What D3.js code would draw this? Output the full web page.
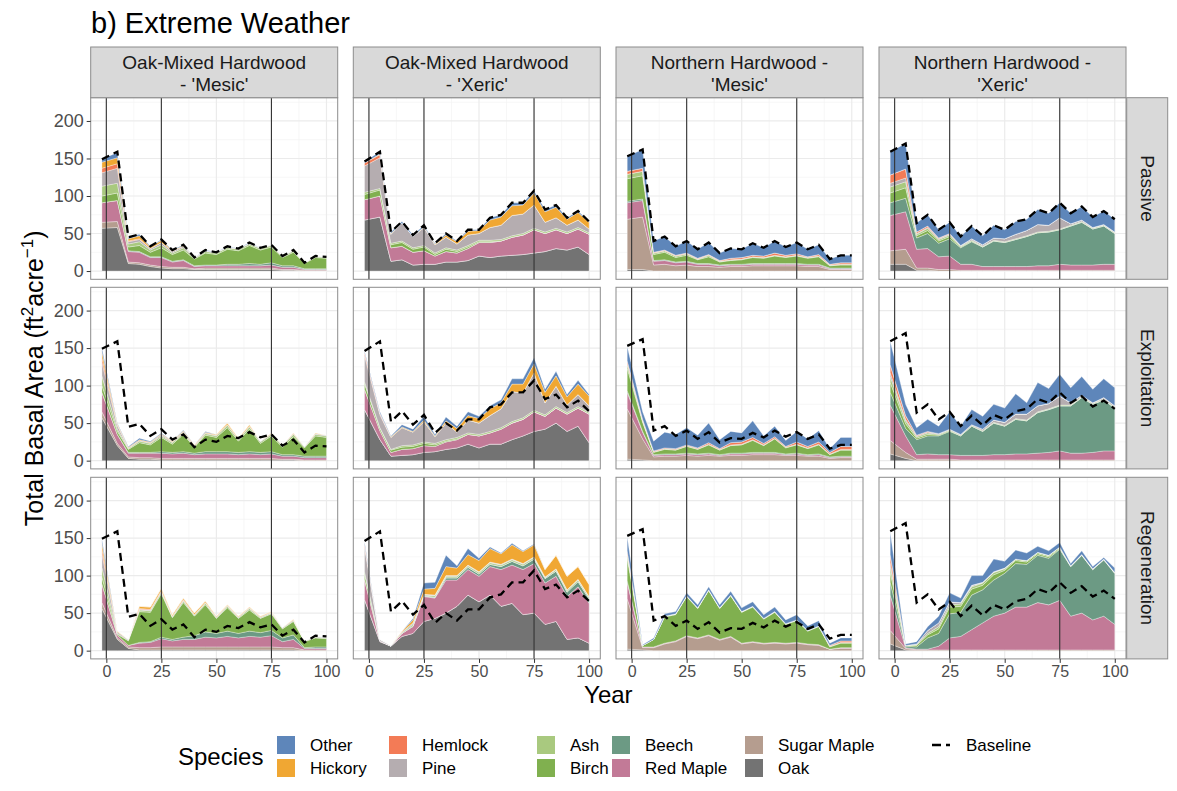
<!DOCTYPE html>
<html><head><meta charset="utf-8">
<script src="https://cdn.jsdelivr.net/npm/d3@7"></script>
<style>body{margin:0;background:#fff} text{font-family:"Liberation Sans",Arial,Helvetica,sans-serif}</style>
</head><body><svg id="c" width="1177" height="791"></svg>
<script>
// ---------------- data ----------------
const years = [-2,5,10,15,20,25,30,35,40,45,50,55,60,65,70,75,80,85,90,95,100];
// stacking order bottom -> top
const species = ["Oak","Sugar Maple","Red Maple","Beech","Birch","Ash","Pine","Hemlock","Hickory","Other"];
const speciesColors = ["#737373","#B59D8F","#C27A97","#6C9A84","#80B04F","#A9C97F","#B5ADB0","#F37B56","#F0A733","#5E86BA"];
const forestTypes = [["Oak-Mixed Hardwood","- 'Mesic'"],["Oak-Mixed Hardwood","- 'Xeric'"],["Northern Hardwood -","'Mesic'"],["Northern Hardwood -","'Xeric'"]];
const treatments = ["Passive","Exploitation","Regeneration"];
const xTicks = [0,25,50,75,100];
const yTicks = [0,50,100,150,200];
const markerYears = [0,25,75];

const baselineOMHMesic = [149,159,45,49,33,42,28,35,18,28,25,33,30,38,31,35,20,28,11,20,19];
const baselineOMHXeric = [146,159,52,66,48,61,37,50,40,55,55,71,75,91,91,107,82,88,71,80,66];
const baselineNHMesic  = [153,162,40,46,33,40,29,38,24,30,29,37,31,40,32,38,29,35,16,21,21];
const baselineNHXeric  = [159,170,64,75,55,65,46,60,47,61,55,66,69,82,77,91,77,86,72,80,69];

// each row: one year; columns follow `species`
const passiveOMHMesic = [
[57,8,26,0,9,13,18,6,8,4],[58,8,28,0,10,13,20,6,8,7],[10,2,14,1,5,4,3,1,3,2],[9,2,14,1,8,5,3,1,4,2],
[6,2,10,1,6,3,2,0,2,1],[4,2,12,1,12,4,3,0,3,1],[3,2,7,1,9,2,2,0,1,1],[3,2,9,1,13,3,2,0,1,1],
[2,1,3,1,9,1,1,0,0,0],[2,2,3,1,16,2,1,0,0,1],[2,2,3,1,14,2,1,0,0,0],[2,2,3,2,20,2,1,0,0,1],
[2,2,3,2,18,2,1,0,0,0],[2,2,3,3,24,2,1,0,0,1],[2,2,3,2,19,2,1,0,0,0],[2,2,4,3,21,2,1,0,0,0],
[1,1,3,2,11,1,1,0,0,0],[1,1,3,2,18,2,1,0,0,0],[0,1,1,1,7,1,0,0,0,0],[0,1,1,1,15,1,1,0,0,0],[0,1,1,1,14,1,1,0,0,0]];
const passiveOMHXeric = [
[68,0,27,0,7,3,35,4,0,2],[72,0,28,0,8,2,41,4,1,3],[13,0,18,0,4,2,12,0,1,2],[15,0,18,0,5,2,24,0,0,2],
[8,0,17,0,4,2,15,0,0,2],[9,0,18,0,5,2,24,0,1,2],[9,0,11,0,2,2,11,0,1,1],[12,0,14,0,3,2,14,0,3,2],
[12,0,12,0,2,2,8,0,3,1],[14,0,16,0,2,2,14,0,5,2],[20,0,18,0,1,2,9,0,4,1],[18,0,20,0,1,2,17,0,10,3],
[20,0,20,0,0,2,19,0,11,3],[21,0,24,0,0,2,27,0,13,4],[22,0,26,0,0,2,26,0,12,3],[24,0,31,0,0,2,31,0,16,3],
[26,0,24,0,0,2,13,0,14,3],[30,0,25,0,0,2,14,0,14,3],[28,0,22,0,0,2,9,0,8,2],[32,0,24,0,0,2,10,0,10,2],[22,0,27,0,0,2,5,0,9,1]];
const passiveNHMesic = [
[2,67,22,2,30,6,0,4,0,20],[2,70,22,2,31,6,0,4,0,25],[0,8,5,1,8,2,0,1,0,15],[0,9,5,1,10,2,0,1,0,18],
[0,7,4,1,6,2,0,1,0,12],[0,8,4,1,8,2,0,1,0,16],[0,6,3,1,5,1,0,1,0,12],[0,6,3,1,9,2,0,1,0,16],
[0,5,2,1,4,1,0,1,0,10],[0,6,2,1,5,1,0,2,0,13],[0,6,2,1,6,1,0,2,0,11],[0,7,2,1,8,1,0,2,0,16],
[0,7,2,1,7,1,0,2,0,11],[0,7,2,1,10,1,0,3,0,16],[0,7,2,1,8,1,0,2,0,11],[0,7,2,1,10,1,0,2,0,15],
[0,6,2,1,8,1,0,1,0,10],[0,6,2,1,10,1,0,2,0,13],[0,2,1,1,3,1,0,1,0,7],[0,2,1,1,4,1,0,2,0,10],[0,2,1,1,4,1,0,2,0,10]];
const passiveNHXeric = [
[9,18,47,17,13,8,5,11,0,31],[9,20,50,18,14,8,5,12,0,34],[1,3,25,15,3,2,1,2,0,12],[1,3,26,20,4,3,1,2,0,15],
[0,2,17,18,3,2,1,1,0,11],[0,2,18,23,3,2,1,1,0,15],[0,1,8,22,1,1,1,0,0,12],[0,1,8,30,1,1,2,0,0,17],
[0,1,5,26,0,1,2,0,0,12],[0,1,5,34,0,1,3,0,0,17],[0,1,5,32,0,1,4,0,0,12],[0,1,5,36,0,1,6,0,0,17],
[0,1,5,40,0,1,7,0,0,15],[0,1,6,44,0,1,10,0,0,20],[0,1,6,45,0,1,8,0,0,16],[0,1,8,46,0,1,15,0,0,20],
[0,1,7,52,0,1,2,0,0,14],[0,1,7,57,0,1,2,0,0,18],[0,1,7,48,0,1,1,0,0,14],[0,1,8,51,0,1,1,0,0,18],[0,1,8,41,0,1,1,0,0,17]];

const exploitOMHMesic = [
[57,8,26,0,9,13,18,6,8,5],[20,3,12,0,4,3,5,1,1,1],[3,2,5,1,4,1,1,0,1,1],[2,2,6,1,13,2,1,0,1,2],
[2,2,6,1,10,2,1,0,1,1],[1,2,7,2,19,2,2,0,1,1],[1,2,6,2,11,2,1,0,1,0],[1,2,7,2,23,2,2,0,1,1],
[1,2,5,2,8,1,1,0,1,0],[1,2,6,3,22,2,1,0,1,1],[1,2,6,3,19,2,1,0,1,0],[1,2,6,3,32,3,1,0,2,0],
[1,2,5,3,15,2,1,0,1,0],[1,2,6,3,30,3,1,0,2,0],[1,2,5,3,12,2,1,0,0,0],[1,2,6,3,21,2,1,0,1,0],
[1,1,4,2,10,2,1,0,0,0],[1,1,4,2,24,3,1,0,1,0],[0,1,3,2,11,1,1,0,0,0],[0,1,3,2,27,2,1,0,1,0],[0,1,3,2,25,2,1,0,0,0]];
const exploitOMHXeric = [
[68,0,27,0,7,3,35,4,0,2],[28,0,12,0,3,1,17,2,0,2],[6,0,5,0,3,1,16,0,1,1],[7,0,8,0,3,2,24,0,1,3],
[8,0,8,0,3,2,17,0,1,3],[11,0,9,0,3,2,27,0,2,5],[12,0,7,0,2,2,9,0,1,2],[15,0,10,0,1,2,22,0,3,5],
[17,0,11,0,1,2,7,0,5,3],[22,0,13,0,0,2,17,0,6,5],[17,0,16,0,0,2,15,0,6,3],[22,0,15,0,0,2,21,0,9,4],
[22,0,20,0,0,2,25,0,8,4],[28,0,22,0,0,2,40,0,10,7],[33,0,22,0,0,2,33,0,12,7],[39,0,26,0,0,2,50,0,12,8],
[42,0,17,0,0,2,16,0,14,4],[50,0,20,0,0,2,27,0,14,6],[39,0,23,0,0,2,10,0,11,3],[46,0,24,0,0,2,16,0,14,5],[24,0,38,0,0,2,9,0,13,2]];
const exploitNHMesic = [
[2,67,22,2,30,6,0,4,0,19],[1,28,9,1,12,2,0,2,0,10],[0,5,2,1,3,1,0,1,0,13],[0,6,2,1,6,1,0,1,0,21],
[0,6,2,1,5,1,0,1,0,19],[0,7,2,1,9,1,0,1,0,23],[0,6,2,1,6,1,0,1,0,17],[0,7,2,1,11,1,0,2,0,26],
[0,6,1,1,6,1,0,1,0,12],[0,7,2,1,10,1,0,3,0,15],[0,7,2,1,11,1,0,3,0,12],[0,8,2,1,16,1,0,3,0,22],
[0,8,2,1,9,1,0,2,0,10],[0,8,2,1,18,1,0,2,0,14],[0,7,1,1,8,1,0,1,0,8],[0,7,2,1,11,1,0,3,0,14],
[0,6,1,1,8,1,0,2,0,10],[0,6,2,1,12,1,0,3,0,15],[0,3,1,1,3,1,0,2,0,5],[0,4,1,1,8,1,0,4,0,12],[0,4,1,1,8,1,0,4,0,12]];
const exploitNHXeric = [
[9,18,47,17,13,8,5,11,0,31],[3,8,22,10,6,4,2,5,0,15],[0,2,6,20,2,2,1,1,0,10],[0,2,7,24,2,2,1,1,0,16],
[0,2,6,25,1,1,1,0,0,10],[0,2,6,31,1,1,1,0,0,23],[0,1,6,26,0,1,1,0,0,11],[0,1,6,39,0,1,1,0,0,20],
[0,1,6,32,0,1,2,0,0,17],[0,1,7,42,0,1,3,0,0,21],[0,1,7,38,0,1,4,0,0,19],[0,1,8,46,0,1,6,0,0,27],
[0,1,8,44,0,1,8,0,0,15],[0,1,9,54,0,1,8,0,0,31],[0,1,10,57,0,1,7,0,0,20],[0,1,12,60,0,1,12,0,0,29],
[0,1,9,63,0,1,3,0,0,20],[0,1,9,74,0,1,2,0,0,25],[0,1,10,64,0,1,1,0,0,18],[0,1,12,68,0,1,2,0,0,25],[0,1,12,57,0,1,2,0,0,24]];

const regenOMHMesic = [
[56,8,25,0,9,13,18,6,8,5],[15,2,4,0,1,1,2,0,1,0],[3,2,2,0,6,1,1,0,0,0],[1,3,6,1,41,2,1,1,3,0],
[1,3,7,1,39,2,1,1,3,0],[1,4,11,2,58,2,1,1,3,0],[1,4,8,2,29,1,1,0,2,0],[1,4,10,3,46,2,1,1,2,0],
[1,4,10,5,26,1,1,0,2,0],[1,4,13,7,36,2,1,0,2,0],[1,4,12,6,20,1,1,0,1,0],[1,4,14,7,31,2,1,0,1,0],
[1,4,12,6,20,1,1,0,1,0],[1,4,14,7,28,2,1,0,1,0],[1,4,13,6,19,1,1,0,1,0],[1,4,15,7,22,1,1,0,1,0],
[1,3,8,5,12,1,1,0,0,0],[1,3,11,6,18,1,1,0,1,0],[0,1,2,1,8,1,0,0,0,0],[0,1,2,2,12,1,1,0,0,0],[0,1,2,2,11,1,1,0,0,0]];
const regenOMHXeric = [
[68,0,27,0,7,3,33,4,0,3],[12,0,1,0,0,0,2,0,0,0],[6,0,0,0,0,0,1,0,0,0],[19,0,4,0,0,1,1,0,1,0],
[23,0,9,1,0,2,2,0,4,2],[39,0,33,1,0,1,1,0,7,8],[43,0,27,1,0,2,1,0,9,8],[50,0,44,3,0,2,1,0,12,15],
[59,0,35,3,0,2,1,0,10,3],[74,0,34,3,0,2,1,0,14,8],[65,0,34,3,0,2,1,0,15,3],[74,0,38,3,0,2,1,0,18,2],
[59,0,49,4,0,2,1,0,14,1],[63,0,51,5,0,2,1,0,19,2],[48,0,60,5,0,2,1,0,16,1],[50,0,66,6,0,2,1,0,16,1],
[35,0,55,6,0,1,1,0,10,0],[39,0,60,7,0,2,1,0,18,0],[15,0,57,6,0,2,1,0,18,0],[17,0,68,7,0,2,1,0,17,0],[10,0,53,6,0,2,1,0,16,0]];
const regenNHMesic = [
[2,67,22,2,30,6,0,4,0,19],[1,3,1,0,2,0,0,0,0,1],[0,4,1,0,10,0,0,0,0,2],[0,9,1,0,35,1,0,0,0,3],
[0,12,1,0,35,1,0,0,0,3],[0,19,1,0,52,1,0,0,0,4],[0,16,1,0,39,1,0,0,0,4],[0,20,1,0,59,1,0,0,0,4],
[0,14,1,0,41,1,0,0,0,4],[0,18,1,0,54,1,0,0,0,5],[0,9,1,0,41,1,0,0,0,5],[0,11,1,0,46,1,0,0,0,6],
[0,9,1,0,32,1,0,0,0,5],[0,10,1,0,40,1,0,0,0,6],[0,9,1,0,25,1,0,0,0,5],[0,10,1,0,29,1,0,0,0,7],
[0,8,1,0,17,1,0,0,0,6],[0,7,1,0,24,1,0,0,0,7],[0,2,0,0,3,1,0,1,0,3],[0,3,1,0,6,1,0,2,0,4],[0,3,1,0,6,1,0,2,0,4]];
const regenNHXeric = [
[9,18,47,17,13,8,5,11,0,30],[1,2,1,2,1,0,0,0,0,2],[0,1,1,3,2,1,1,0,0,3],[0,1,1,15,4,2,4,0,0,5],
[0,1,5,17,6,3,5,0,0,9],[0,1,16,32,9,3,4,0,0,12],[0,1,18,32,8,3,2,0,0,6],[0,1,27,46,8,3,2,0,0,13],
[0,1,36,44,6,3,1,0,0,9],[0,1,45,48,7,3,1,0,0,17],[0,1,49,53,4,2,1,0,0,9],[0,1,57,58,4,2,0,0,0,12],
[0,1,57,57,3,2,0,0,0,10],[0,1,63,63,2,2,0,0,0,8],[0,1,60,62,2,2,0,0,0,6],[0,1,66,68,1,2,0,0,0,6],
[0,1,45,66,0,1,0,0,0,3],[0,1,49,77,0,1,0,0,0,5],[0,1,40,67,0,1,0,0,0,3],[0,1,45,75,0,1,0,0,0,2],[0,1,34,68,0,1,0,0,0,6]];

// legend entries in ggplot column-major order (2 rows)
const legendOrder = ["Other","Hickory","Hemlock","Pine","Ash","Birch","Beech","Red Maple","Sugar Maple","Oak"];

// ---------------- layout ----------------
const panelGrid = [
  [passiveOMHMesic, passiveOMHXeric, passiveNHMesic, passiveNHXeric],
  [exploitOMHMesic, exploitOMHXeric, exploitNHMesic, exploitNHXeric],
  [regenOMHMesic, regenOMHXeric, regenNHMesic, regenNHXeric]];
const baselines = [baselineOMHMesic, baselineOMHXeric, baselineNHMesic, baselineNHXeric];

const colX = [90.7, 353.3, 616, 879];
const rowY = [97.7, 287.3, 477.3];
const PW = 247, PH = 181.6;
const stripTop = 47, stripRightX = 1126.7, stripRightW = 41;

const svg = d3.select("#c");
const x = d3.scaleLinear().domain([-7.1, 105.1]).range([0, PW]);
const y = d3.scaleLinear().domain([-11, 231]).range([PH, 0]);
const color = d3.scaleOrdinal().domain(species).range(speciesColors);

const stack = d3.stack().keys(d3.range(species.length)).value((row, k) => row[k]);
const area = d3.area().x((d, i) => x(years[i])).y0(d => y(d[0])).y1(d => y(d[1]));
const line = d3.line().x((d, i) => x(years[i])).y(d => y(d));

const defs = svg.append("defs");
defs.append("clipPath").attr("id","pclip").append("rect").attr("width",PW).attr("height",PH);

// title
svg.append("text").attr("x", 91).attr("y", 33).attr("font-size", 29).attr("fill","#000").text("b) Extreme Weather");

treatments.forEach((tr, r) => {
  forestTypes.forEach((ft, c) => {
    const g = svg.append("g").attr("transform", `translate(${colX[c]},${rowY[r]})`);
    g.append("rect").attr("width", PW).attr("height", PH).attr("fill", "#fff");
    const gy = g.append("g");
    [25,75,125,175,225].forEach(v => gy.append("line").attr("x1",0).attr("x2",PW).attr("y1",y(v)).attr("y2",y(v)).attr("stroke","#F3F3F3").attr("stroke-width",0.7));
    [12.5,37.5,62.5,87.5].forEach(v => gy.append("line").attr("y1",0).attr("y2",PH).attr("x1",x(v)).attr("x2",x(v)).attr("stroke","#F3F3F3").attr("stroke-width",0.7));
    yTicks.forEach(v => gy.append("line").attr("x1",0).attr("x2",PW).attr("y1",y(v)).attr("y2",y(v)).attr("stroke","#EBEBEB").attr("stroke-width",1.2));
    xTicks.forEach(v => gy.append("line").attr("y1",0).attr("y2",PH).attr("x1",x(v)).attr("x2",x(v)).attr("stroke","#EBEBEB").attr("stroke-width",1.2));

    const inner = g.append("g").attr("clip-path","url(#pclip)");
    const series = stack(panelGrid[r][c]);
    inner.selectAll("path.a").data(series).join("path").attr("class","a")
      .attr("d", area).attr("fill", s => speciesColors[s.key])
      .attr("stroke","rgba(255,255,255,0.55)").attr("stroke-width",0.6);
    markerYears.forEach(v => inner.append("line").attr("x1",x(v)).attr("x2",x(v)).attr("y1",0).attr("y2",PH)
      .attr("stroke","#333").attr("stroke-width",1.1));
    inner.append("path").attr("d", line(baselines[c])).attr("fill","none").attr("stroke","#000")
      .attr("stroke-width",2.3).attr("stroke-dasharray","8,5");
    g.append("rect").attr("width", PW).attr("height", PH).attr("fill","none").attr("stroke","#8C8C8C").attr("stroke-width",1);

    if (c === 0) {
      const ax = g.append("g").call(d3.axisLeft(y).tickValues(yTicks).tickSize(4).tickPadding(3));
      ax.select(".domain").remove();
      ax.selectAll("line").attr("stroke","#333");
      ax.selectAll("text").attr("font-size",18).attr("fill","#4D4D4D").attr("font-family","Liberation Sans, Arial");
    }
    if (r === 2) {
      const ax = g.append("g").attr("transform",`translate(0,${PH})`).call(d3.axisBottom(x).tickValues(xTicks).tickSize(4).tickPadding(3));
      ax.select(".domain").remove();
      ax.selectAll("line").attr("stroke","#333");
      ax.selectAll("text").attr("font-size",16).attr("fill","#4D4D4D").attr("font-family","Liberation Sans, Arial");
    }
  });
});

// top strips
forestTypes.forEach((ft, c) => {
  const g = svg.append("g").attr("transform", `translate(${colX[c]},${stripTop})`);
  g.append("rect").attr("width", PW).attr("height", rowY[0]-stripTop).attr("fill","#D9D9D9").attr("stroke","#8C8C8C");
  ft.forEach((t, i) => g.append("text").attr("x", PW/2).attr("y", 22 + i*21.5).attr("text-anchor","middle")
    .attr("font-size",19).attr("fill","#1A1A1A").text(t));
});
// right strips
treatments.forEach((tr, r) => {
  const g = svg.append("g").attr("transform", `translate(${stripRightX},${rowY[r]})`);
  g.append("rect").attr("width", stripRightW).attr("height", PH).attr("fill","#D9D9D9").attr("stroke","#8C8C8C");
  g.append("text").attr("transform", `translate(${stripRightW/2},${PH/2}) rotate(90)`).attr("text-anchor","middle")
    .attr("dy","0.35em").attr("font-size",19).attr("fill","#1A1A1A").text(tr);
});

// axis titles
svg.append("text").attr("x", (colX[0] + colX[3] + PW)/2).attr("y", 703).attr("text-anchor","middle").attr("font-size",24).text("Year");
const yt = svg.append("text").attr("transform", `translate(43,${(rowY[0]+rowY[2]+PH)/2}) rotate(-90)`).attr("text-anchor","middle").attr("font-size",25);
yt.append("tspan").text("Total Basal Area (ft");
yt.append("tspan").attr("font-size",17).attr("dy",-10).text("2");
yt.append("tspan").attr("font-size",25).attr("dy",10).text("acre");
yt.append("tspan").attr("font-size",17).attr("dy",-10).text("\u22121");
yt.append("tspan").attr("font-size",25).attr("dy",10).text(")");

// legend
const lg = svg.append("g");
lg.append("text").attr("x",178).attr("y",765).attr("font-size",24).text("Species");
const keyX = [277, 389, 537, 612, 745];
const rowC = [745, 768];
legendOrder.forEach((name, i) => {
  const col = Math.floor(i/2), row = i % 2;
  lg.append("rect").attr("x", keyX[col]).attr("y", rowC[row]-9).attr("width",18).attr("height",18)
    .attr("fill", color(name));
  lg.append("text").attr("x", keyX[col]+33).attr("y", rowC[row]).attr("dy","0.35em").attr("font-size",17).text(name);
});
lg.append("line").attr("x1",932).attr("x2",950).attr("y1",rowC[0]).attr("y2",rowC[0]).attr("stroke","#000").attr("stroke-width",2.3).attr("stroke-dasharray","9,5");
lg.append("text").attr("x",966).attr("y",rowC[0]).attr("dy","0.35em").attr("font-size",17).text("Baseline");
</script></body></html>
